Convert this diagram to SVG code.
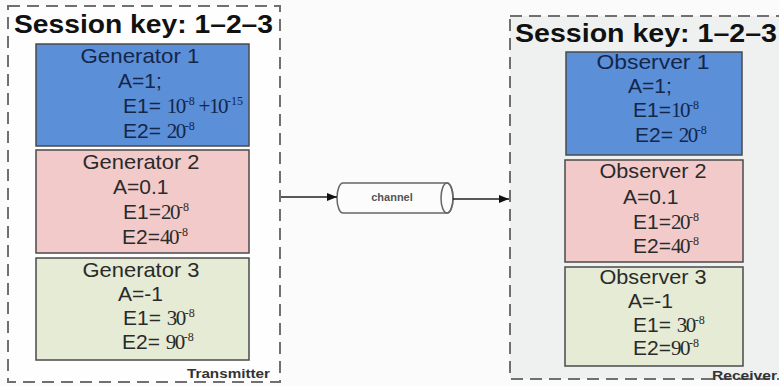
<svg xmlns="http://www.w3.org/2000/svg" width="779" height="386" viewBox="0 0 779 386">
<defs>
<style>
.cont{stroke:#707070;stroke-width:2;stroke-dasharray:12 7}
.title{font-family:"Liberation Sans",Arial,sans-serif;font-weight:bold;font-size:25px;fill:#111}
.box{stroke:#4a4a4a;stroke-width:1.5}
.blue{fill:#5b8fd7}
.pink{fill:#f2caca}
.green{fill:#e5ebd4}
.t{font-family:"Liberation Sans",Arial,sans-serif;font-size:21px;fill:#2a2a2a}
.tb{fill:#14264a}
.hd{text-anchor:middle}
.num{font-family:"Liberation Serif","Times New Roman",serif;font-size:21px;letter-spacing:-1.5px}
.sup{font-family:"Liberation Serif","Times New Roman",serif;font-size:12px}
.lbl{font-family:"Liberation Sans",Arial,sans-serif;font-weight:bold;font-size:13px;fill:#333}
.conn{stroke:#222;stroke-width:1.5;fill:none}
</style>
<marker id="arr" markerWidth="10" markerHeight="8" refX="10" refY="4" orient="auto" markerUnits="userSpaceOnUse">
<path d="M0,0 L10,4 L0,8 Z" fill="#111"/>
</marker>
</defs>
<rect x="0" y="0" width="779" height="386" fill="#fbfbfb"/>

<g id="transmitter">
<rect class="cont" x="8" y="6" width="272" height="376" fill="#fefefe"/>
<text class="title" x="14" y="33" textLength="259" lengthAdjust="spacingAndGlyphs">Session key: 1–2–3</text>
<text class="lbl" x="187" y="378" textLength="83" lengthAdjust="spacingAndGlyphs">Transmitter</text>
</g>

<g id="receiver">
<rect class="cont" x="510" y="16" width="300" height="363" fill="#eff1f1"/>
<text class="title" x="515" y="42" textLength="262" lengthAdjust="spacingAndGlyphs">Session key: 1–2–3</text>
<text class="lbl" x="712" y="380" textLength="65" lengthAdjust="spacingAndGlyphs">Receiver</text>
</g>

<g id="generator1">
<rect class="box blue" x="36" y="44" width="213" height="102"/>
<text class="t tb hd" x="140" y="63" textLength="119" lengthAdjust="spacingAndGlyphs">Generator 1</text>
<text class="t tb" x="118" y="88">A=1;</text>
<text class="t tb" x="123" y="113">E1= <tspan class="num">10</tspan><tspan class="sup" dy="-8">-8</tspan><tspan class="num" dy="8"> +10</tspan><tspan class="sup" dy="-8">-15</tspan></text>
<text class="t tb" x="123" y="138">E2= <tspan class="num">20</tspan><tspan class="sup" dy="-8">-8</tspan></text>
</g>

<g id="generator2">
<rect class="box pink" x="36" y="150" width="213" height="103"/>
<text class="t hd" x="141" y="169" textLength="117" lengthAdjust="spacingAndGlyphs">Generator 2</text>
<text class="t" x="113" y="194">A=0.1</text>
<text class="t" x="123" y="219">E1=<tspan class="num">20</tspan><tspan class="sup" dy="-8">-8</tspan></text>
<text class="t" x="122" y="244">E2=<tspan class="num">40</tspan><tspan class="sup" dy="-8">-8</tspan></text>
</g>

<g id="generator3">
<rect class="box green" x="36" y="258" width="213" height="102"/>
<text class="t hd" x="141" y="277" textLength="117" lengthAdjust="spacingAndGlyphs">Generator 3</text>
<text class="t" x="118" y="301">A=-1</text>
<text class="t" x="123" y="325">E1= <tspan class="num">30</tspan><tspan class="sup" dy="-8">-8</tspan></text>
<text class="t" x="122" y="349">E2= <tspan class="num">90</tspan><tspan class="sup" dy="-8">-8</tspan></text>
</g>

<g id="observer1">
<rect class="box blue" x="566" y="52" width="176" height="103"/>
<text class="t tb hd" x="653" y="69" textLength="113" lengthAdjust="spacingAndGlyphs">Observer 1</text>
<text class="t tb" x="628" y="93">A=1;</text>
<text class="t tb" x="633" y="117">E1=<tspan class="num">10</tspan><tspan class="sup" dy="-8">-8</tspan></text>
<text class="t tb" x="635" y="142">E2= <tspan class="num">20</tspan><tspan class="sup" dy="-8">-8</tspan></text>
</g>

<g id="observer2">
<rect class="box pink" x="565" y="160" width="178" height="102"/>
<text class="t hd" x="653" y="178" textLength="107" lengthAdjust="spacingAndGlyphs">Observer 2</text>
<text class="t" x="623" y="204">A=0.1</text>
<text class="t" x="633" y="229">E1=<tspan class="num">20</tspan><tspan class="sup" dy="-8">-8</tspan></text>
<text class="t" x="633" y="253">E2=<tspan class="num">40</tspan><tspan class="sup" dy="-8">-8</tspan></text>
</g>

<g id="observer3">
<rect class="box green" x="565" y="267" width="178" height="99"/>
<text class="t hd" x="653" y="284" textLength="107" lengthAdjust="spacingAndGlyphs">Observer 3</text>
<text class="t" x="628" y="308">A=-1</text>
<text class="t" x="633" y="332">E1= <tspan class="num">30</tspan><tspan class="sup" dy="-8">-8</tspan></text>
<text class="t" x="633" y="355">E2=<tspan class="num">90</tspan><tspan class="sup" dy="-8">-8</tspan></text>
</g>

<g id="channel">
<path d="M343,183 H447 A6,15 0 0 1 447,213 H343 A6,15 0 0 1 343,183 Z" fill="#fcfcfc" stroke="#666" stroke-width="1.5"/>
<ellipse cx="447" cy="198" rx="6" ry="15" fill="none" stroke="#666" stroke-width="1.5"/>
<text x="392" y="201" text-anchor="middle" font-family="'Liberation Sans',Arial,sans-serif" font-weight="bold" font-size="11" fill="#555">channel</text>
</g>

<g id="connectors">
<line class="conn" x1="281" y1="197" x2="337" y2="197" marker-end="url(#arr)"/>
<line class="conn" x1="453" y1="199" x2="509" y2="199" marker-end="url(#arr)"/>
</g>
</svg>
